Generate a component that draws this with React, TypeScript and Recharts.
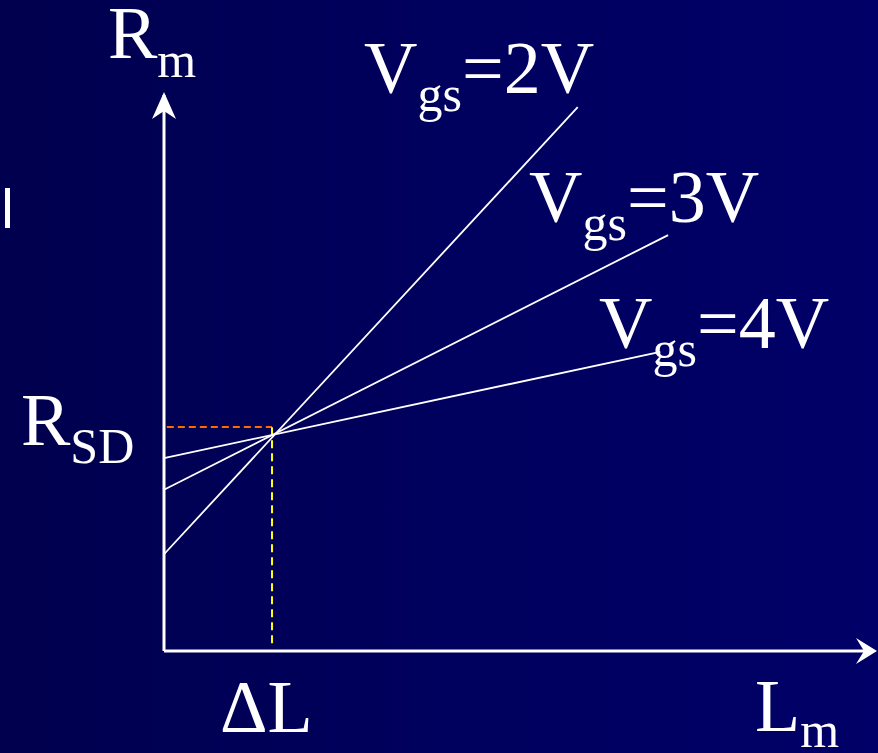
import React from "react";
import { ComposedChart, Line, XAxis, YAxis, ReferenceLine, ReferenceDot } from "recharts";

// straight R_m vs L_m lines, one per gate voltage (arbitrary units, 0..100)
const VGS_2V = [
  { x: 0, y: 17.4 },
  { x: 58.6, y: 97.8 },
];
const VGS_3V = [
  { x: 0, y: 29.0 },
  { x: 71.4, y: 74.8 },
];
const VGS_4V = [
  { x: 0, y: 34.7 },
  { x: 70.3, y: 53.8 },
];

const DELTA_L = 15.3;
const R_SD = 40.3;
const AXIS_MAX = 100;

const W = 878;
const H = 753;
const FONT = "'Liberation Serif', 'Times New Roman', serif";
const BIG = 74;
const SMALL = 50;

function UpArrow(props: any) {
  const { cx, cy } = props;
  if (cx == null || cy == null) return null;
  return <path d={`M${cx},${cy - 3} L${cx + 12},${cy + 24} L${cx},${cy + 16} L${cx - 12},${cy + 24} Z`} fill="#ffffff" />;
}

function RightArrow(props: any) {
  const { cx, cy } = props;
  if (cx == null || cy == null) return null;
  return <path d={`M${cx + 7},${cy} L${cx - 14},${cy + 13} L${cx - 6},${cy} L${cx - 14},${cy - 13} Z`} fill="#ffffff" />;
}

function Label({ x, y, main, sub, rest, drop = 18 }: { x: number; y: number; main: string; sub: string; rest?: string; drop?: number }) {
  return (
    <text x={x} y={y} fill="#ffffff" fontFamily={FONT} fontSize={BIG}>
      <tspan>{main}</tspan>
      <tspan fontSize={SMALL} dy={drop}>
        {sub}
      </tspan>
      {rest ? (
        <tspan fontSize={BIG} dy={-drop}>
          {rest}
        </tspan>
      ) : null}
    </text>
  );
}

export default function App() {
  return (
    <div
      style={{
        position: "absolute",
        left: 0,
        top: 0,
        width: W,
        height: H,
        background: "linear-gradient(90deg, #00004e 0%, #00005e 50%, #000068 100%)",
      }}
    >
      <ComposedChart width={W} height={H} margin={{ top: 95, right: 8, bottom: 102, left: 164 }}>
        <XAxis type="number" dataKey="x" domain={[0, AXIS_MAX]} hide />
        <YAxis type="number" dataKey="y" domain={[0, AXIS_MAX]} hide />
        <ReferenceLine
          segment={[
            { x: 0, y: 0 },
            { x: 0, y: AXIS_MAX },
          ]}
          stroke="#ffffff"
          strokeWidth={3}
        />
        <ReferenceLine
          segment={[
            { x: 0, y: 0 },
            { x: AXIS_MAX, y: 0 },
          ]}
          stroke="#ffffff"
          strokeWidth={3}
        />
        <ReferenceDot x={0} y={AXIS_MAX} shape={UpArrow} />
        <ReferenceDot x={AXIS_MAX} y={0} shape={RightArrow} />
        <ReferenceLine
          segment={[
            { x: 0.4, y: R_SD },
            { x: DELTA_L, y: R_SD },
          ]}
          stroke="#ff6a00"
          strokeWidth={2}
          strokeDasharray="7 4"
        />
        <ReferenceLine
          segment={[
            { x: DELTA_L, y: 1.4 },
            { x: DELTA_L, y: R_SD },
          ]}
          stroke="#ffff00"
          strokeWidth={2}
          strokeDasharray="8 5"
        />
        <Line data={VGS_2V} dataKey="y" type="linear" stroke="#ffffff" strokeWidth={1.8} dot={false} isAnimationActive={false} />
        <Line data={VGS_3V} dataKey="y" type="linear" stroke="#ffffff" strokeWidth={1.8} dot={false} isAnimationActive={false} />
        <Line data={VGS_4V} dataKey="y" type="linear" stroke="#ffffff" strokeWidth={1.8} dot={false} isAnimationActive={false} />
      </ComposedChart>
      <svg width={W} height={H} style={{ position: "absolute", left: 0, top: 0, pointerEvents: "none" }}>
        <rect x={5} y={188} width={5} height={40} fill="#ffffff" />
        <Label x={108} y={58} main="R" sub="m" drop={19} />
        <Label x={364} y={93} main="V" sub="gs" rest="=2V" />
        <Label x={529} y={222} main="V" sub="gs" rest="=3V" />
        <Label x={599} y={348} main="V" sub="gs" rest="=4V" />
        <Label x={21} y={445} main="R" sub="SD" />
        <text x={220} y={732} fill="#ffffff" fontFamily={FONT} fontSize={BIG}>
          ΔL
        </text>
        <Label x={755} y={731} main="L" sub="m" drop={16} />
      </svg>
    </div>
  );
}
